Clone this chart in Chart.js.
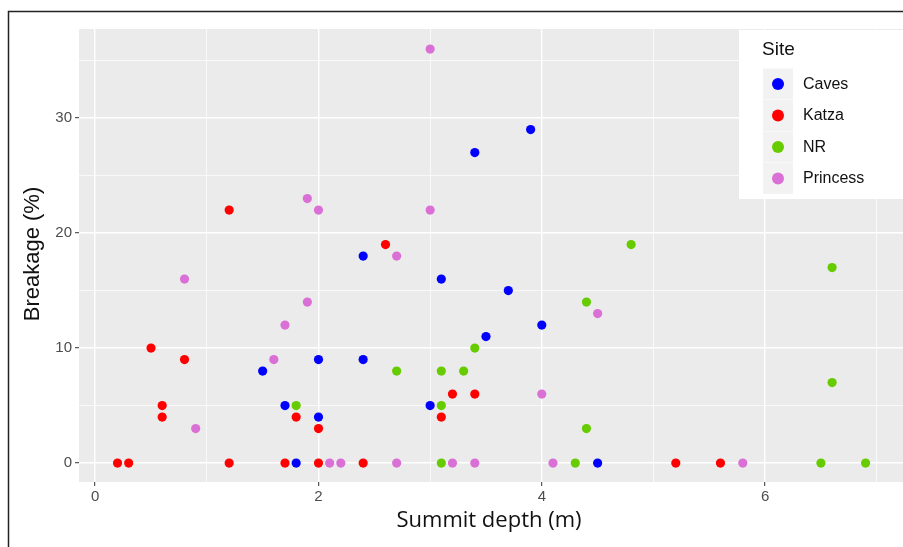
<!DOCTYPE html>
<html>
<head>
<meta charset="utf-8">
<script src="https://cdn.jsdelivr.net/npm/chart.js@4.4.1/dist/chart.umd.min.js"></script>
<style>
  html, body { margin: 0; padding: 0; background: #ffffff; }
  #wrap { width: 903px; height: 547px; position: relative; }
</style>
</head>
<body>
<div id="wrap"><canvas id="myChart" width="903" height="547"></canvas></div>
<script>
// data (summit depth in m, breakage in %)
var siteNames = ["Caves", "Katza", "NR", "Princess"];
var siteColors = ["#0000FF", "#FF0000", "#66CC00", "#DA70D6"];

var cavesDepth = [3.4, 3.9, 2.4, 3.1, 3.7, 4.0, 3.5, 1.5, 2.0, 2.4, 1.7, 3.0, 2.0, 1.8, 4.5];
var cavesBreak = [27, 29, 18, 16, 15, 12, 11, 8, 9, 9, 5, 5, 4, 0, 0];

var katzaDepth = [1.2, 2.6, 0.5, 0.8, 0.6, 0.6, 1.8, 2.0, 3.1, 3.2, 3.4, 0.2, 0.3, 1.2, 1.7, 2.0, 2.4, 5.2, 5.6];
var katzaBreak = [22, 19, 10, 9, 5, 4, 4, 3, 4, 6, 6, 0, 0, 0, 0, 0, 0, 0, 0];

var nrDepth = [4.8, 6.6, 4.4, 3.4, 3.3, 2.7, 3.1, 1.8, 3.1, 6.6, 4.4, 3.1, 4.3, 6.5, 6.9];
var nrBreak = [19, 17, 14, 10, 8, 8, 8, 5, 5, 7, 3, 0, 0, 0, 0];

var princessDepth = [3.0, 1.9, 2.0, 3.0, 2.7, 0.8, 1.9, 1.7, 1.6, 4.5, 4.0, 0.9, 2.1, 2.2, 2.7, 3.2, 3.4, 4.1, 5.8];
var princessBreak = [36, 23, 22, 22, 18, 16, 14, 12, 9, 13, 6, 3, 0, 0, 0, 0, 0, 0, 0];

var xTicks = [0, 1, 2, 3, 4, 5, 6, 7];
var yTicks = [0, 5, 10, 15, 20, 25, 30, 35];

var xTitle = "Summit depth (m)";
var yTitle = "Breakage (%)";
var legendTitle = "Site";

function toPoints(xs, ys) {
  return xs.map(function(x, i) { return { x: x, y: ys[i] }; });
}

var seriesX = [cavesDepth, katzaDepth, nrDepth, princessDepth];
var seriesY = [cavesBreak, katzaBreak, nrBreak, princessBreak];

var datasets = siteNames.map(function(name, i) {
  return {
    label: name,
    data: toPoints(seriesX[i], seriesY[i]),
    backgroundColor: siteColors[i],
    borderWidth: 0,
    pointRadius: 4.6,
    pointHoverRadius: 4.6
  };
});

// grey panel, frame, axis titles and ggplot-like legend
var ggPlugin = {
  id: 'gg',
  beforeDraw: function(chart) {
    var c = chart.ctx, a = chart.chartArea;
    c.save();
    c.fillStyle = '#EBEBEB';
    c.fillRect(a.left, a.top, a.right - a.left, a.bottom - a.top);
    c.restore();
  },
  afterDraw: function(chart) {
    var c = chart.ctx;
    c.save();

    // outer frame
    c.strokeStyle = '#222222';
    c.lineWidth = 1.5;
    c.beginPath();
    c.moveTo(8.5, 547);
    c.lineTo(8.5, 11.5);
    c.lineTo(903, 11.5);
    c.stroke();

    // axis titles
    c.fillStyle = '#111111';
    c.textAlign = 'center';
    c.textBaseline = 'middle';
    c.font = '22px "Open Sans"';
    c.fillText(xTitle, 489, 521);

    c.translate(33, 254);
    c.rotate(-Math.PI / 2);
    c.font = '22px "Liberation Sans"';
    c.fillText(yTitle, 0, 0);
    c.restore();

    // legend
    c.save();
    c.fillStyle = '#FFFFFF';
    c.fillRect(739, 30, 164, 169);
    c.fillStyle = '#111111';
    c.textAlign = 'left';
    c.textBaseline = 'middle';
    c.font = '19px "Liberation Sans"';
    c.fillText(legendTitle, 762, 50);
    c.font = '16px "Liberation Sans"';
    siteNames.forEach(function(name, i) {
      var top = 68.5 + i * 31.5;
      c.fillStyle = '#F2F2F2';
      c.fillRect(763, top, 30, 31);
      c.fillStyle = siteColors[i];
      c.beginPath();
      c.arc(778, top + 15.5, 6, 0, Math.PI * 2);
      c.fill();
      c.fillStyle = '#111111';
      c.fillText(name, 803, top + 16);
    });
    c.restore();
  }
};

new Chart("myChart", {
  type: "scatter",
  data: { datasets: datasets },
  options: {
    responsive: false,
    animation: false,
    layout: { autoPadding: false, padding: { left: 0, top: 29, right: 0, bottom: 0 } },
    plugins: {
      legend: { display: false },
      tooltip: { enabled: false }
    },
    scales: {
      x: {
        type: 'linear',
        min: -0.145,
        max: 7.235,
        afterBuildTicks: function(scale) {
          scale.ticks = xTicks.map(function(v) { return { value: v }; });
        },
        afterFit: function(scale) {
          scale.height = 65;
          scale.paddingLeft = 0;
          scale.paddingRight = 0;
        },
        border: { display: false },
        grid: {
          color: '#FFFFFF',
          lineWidth: function(ctx) { return ctx.tick && ctx.tick.value % 2 === 0 ? 1.4 : 0.7; },
          tickColor: function(ctx) { return ctx.tick && ctx.tick.value % 2 === 0 ? '#333333' : 'rgba(0,0,0,0)'; },
          tickLength: 4,
          tickWidth: 1
        },
        ticks: {
          autoSkip: false,
          maxRotation: 0,
          padding: 2,
          color: '#4D4D4D',
          font: { family: '"Liberation Sans"', size: 15 },
          callback: function(v) { return v % 2 === 0 ? String(v) : ''; }
        }
      },
      y: {
        type: 'linear',
        min: -1.65,
        max: 37.75,
        afterBuildTicks: function(scale) {
          scale.ticks = yTicks.map(function(v) { return { value: v }; });
        },
        afterFit: function(scale) {
          scale.width = 79;
          scale.paddingTop = 0;
          scale.paddingBottom = 0;
        },
        border: { display: false },
        grid: {
          color: '#FFFFFF',
          lineWidth: function(ctx) { return ctx.tick && ctx.tick.value % 10 === 0 ? 1.4 : 0.7; },
          tickColor: function(ctx) { return ctx.tick && ctx.tick.value % 10 === 0 ? '#333333' : 'rgba(0,0,0,0)'; },
          tickLength: 4,
          tickWidth: 1
        },
        ticks: {
          autoSkip: false,
          padding: 3,
          color: '#4D4D4D',
          font: { family: '"Liberation Sans"', size: 15 },
          callback: function(v) { return v % 10 === 0 ? String(v) : ''; }
        }
      }
    }
  },
  plugins: [ggPlugin]
});
</script>
</body>
</html>
